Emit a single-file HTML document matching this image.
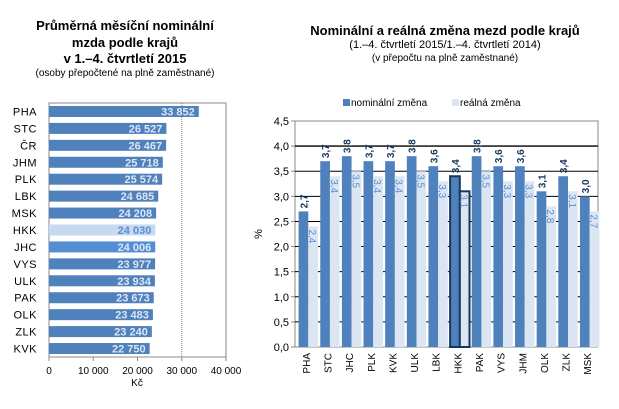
<!DOCTYPE html>
<html><head><meta charset="utf-8"><style>
body{margin:0;background:#fff}
svg{display:block;font-family:"Liberation Sans Narrow","Liberation Sans",sans-serif}
</style></head><body>
<svg id="c" width="619" height="409" viewBox="0 0 619 409">
<g text-anchor="middle" fill="#000">
<text x="125" y="30" font-size="13" font-weight="bold">Průměrná měsíční nominální</text>
<text x="125" y="47" font-size="13" font-weight="bold">mzda podle krajů</text>
<text x="125" y="63" font-size="13" font-weight="bold">v 1.–4. čtvrtletí 2015</text>
<text x="125" y="76" font-size="10">(osoby přepočtené na plně zaměstnané)</text>
</g>
<g text-anchor="middle" fill="#000">
<text x="445" y="35" font-size="13" font-weight="bold">Nominální a reálná změna mezd podle krajů</text>
<text x="445" y="48" font-size="11">(1.–4. čtvrtletí 2015/1.–4. čtvrtletí 2014)</text>
<text x="445" y="61" font-size="10">(v přepočtu na plně zaměstnané)</text>
</g>
<g id="left"></g>
<g id="right"></g>
</svg>
<script>
const regionsL=["PHA","STC","ČR","JHM","PLK","LBK","MSK","HKK","JHC","VYS","ULK","PAK","OLK","ZLK","KVK"];
const wages=[33852,26527,26467,25718,25574,24685,24208,24030,24006,23977,23934,23673,23483,23240,22750];
const xTicksL=[0,10000,20000,30000,40000];
const regionsR=["PHA","STC","JHC","PLK","KVK","ULK","LBK","HKK","PAK","VYS","JHM","OLK","ZLK","MSK"];
const nominal=[2.7,3.7,3.8,3.7,3.7,3.8,3.6,3.4,3.8,3.6,3.6,3.1,3.4,3.0];
const real=[2.4,3.4,3.5,3.4,3.4,3.5,3.3,3.1,3.5,3.3,3.3,2.8,3.1,2.7];
const yTicksR=[0,0.5,1,1.5,2,2.5,3,3.5,4,4.5];
const NS="http://www.w3.org/2000/svg";
function mk(p,t,a,txt){const e=document.createElementNS(NS,t);for(const k in a)e.setAttribute(k,a[k]);if(txt!==undefined)e.textContent=txt;p.appendChild(e);return e;}
const fmt=v=>String(v).replace(/\B(?=(\d{3})+(?!\d))/g," ");
// left
const L=document.getElementById('left');
const lx0=49,lx1=226,ly0=103,ly1=357;
const xs=v=>lx0+(v-0)/(40000)*(lx1-lx0);
const band=(ly1-ly0)/regionsL.length;
mk(L,'rect',{x:lx0,y:ly0,width:lx1-lx0,height:ly1-ly0,fill:'none',stroke:'#888','stroke-width':1});
xTicksL.forEach(t=>{
 if(t>0&&t<40000){const g=mk(L,'line',{x1:xs(t),x2:xs(t),y1:ly0,y2:ly1,stroke:'#888','stroke-dasharray':t===30000?'1,1':'0',"stroke-width":t===30000?1:0});}
 const tk=mk(L,'line',{x1:xs(t),x2:xs(t),y1:ly1,y2:ly1+4,stroke:'#888'});
 const lb=mk(L,'text',{x:xs(t),y:374,'font-size':10,'text-anchor':'middle'},fmt(t));
 
 
});
const kc=mk(L,'text',{x:137,y:386,'font-size':10,'text-anchor':'middle'},'Kč');


regionsL.forEach((r,i)=>{
 const cy=ly0+band*(i+0.5);
 const col=r==="HKK"?"#c6d9f1":(r==="JHC"?"#558ed5":"#4f81bd");
 const b=mk(L,'rect',{x:lx0,y:cy-5.5,width:xs(wages[i])-lx0,height:11,fill:col});
 
 
 const v=mk(L,'text',{x:xs(wages[i])-4,y:cy+4,'font-size':11,'font-weight':'bold','text-anchor':'end',fill:r==="HKK"?"#558ed5":"#dce6f2"},fmt(wages[i]));
 
 
 const c=mk(L,'text',{x:37,y:cy+4,'font-size':11,'text-anchor':'end','letter-spacing':'0.5'},r);
 
 
});
// right
const R=document.getElementById('right');
const rx0=295,rx1=598,ry0=121,ry1=347;
const ys=v=>ry1-v/4.5*(ry1-ry0);
const rb=(rx1-rx0)/regionsR.length;
mk(R,'rect',{x:rx0,y:ry0,width:rx1-rx0,height:ry1-ry0,fill:'none',stroke:'#888'});
yTicksR.forEach(t=>{
 if(t>0){const g=mk(R,'line',{x1:rx0,x2:rx1,y1:ys(t),y2:ys(t),stroke:t===4.5?'#888':'#000','stroke-width':t===4?1.4:1});}
 mk(R,'line',{x1:rx0-4,x2:rx0,y1:ys(t),y2:ys(t),stroke:'#888'});
 const lb=mk(R,'text',{x:rx0-6,y:ys(t)+4,'font-size':11,'text-anchor':'end'},t.toFixed(1).replace('.',','));
 
 
});
const yt=mk(R,'text',{x:0,y:0,'font-size':11,'text-anchor':'middle',transform:'translate(262,234) rotate(-90)'},'%');


const bw=9.7;
regionsR.forEach((r,i)=>{
 const bx=rx0+rb*i+3.6;
 const hk=r==="HKK";
 const n=mk(R,'rect',{x:bx,y:ys(nominal[i]),width:bw,height:ys(0)-ys(nominal[i]),fill:'#4f81bd',stroke:hk?'#17375e':'none','stroke-width':hk?2:0});
 
 
 const e=mk(R,'rect',{x:bx+bw,y:ys(real[i]),width:bw,height:ys(0)-ys(real[i]),fill:'#dce6f2',stroke:hk?'#17375e':'none','stroke-width':hk?2:0});
 
 
 const nx=bx+bw/2+4,ny=ys(nominal[i])-3;
 const nl=mk(R,'text',{x:0,y:0,'font-size':10,'font-weight':'bold',fill:'#17375e',transform:`translate(${nx},${ny}) rotate(-90)`},nominal[i].toFixed(1).replace('.',','));
 
 
 const ex=bx+bw*1.5-4,ey=ys(real[i])+3;
 const el=mk(R,'text',{x:0,y:0,'font-size':10,fill:'#558ed5',transform:`translate(${ex},${ey}) rotate(90)`},real[i].toFixed(1).replace('.',','));
 
 
 const cx=rx0+rb*(i+0.5)+4;
 const cl=mk(R,'text',{x:0,y:0,'font-size':10,'text-anchor':'end',transform:`translate(${cx},${ry1+6}) rotate(-90)`},r);
 
 
});
const lg=mk(R,'g',{});


mk(lg,'rect',{x:343,y:99,width:7,height:7,fill:'#4f81bd'});
mk(lg,'text',{x:351,y:106,'font-size':10},'nominální změna');
mk(lg,'rect',{x:452,y:99,width:7,height:7,fill:'#dce6f2'});
mk(lg,'text',{x:460,y:106,'font-size':10},'reálná změna');
</script>
</body></html>
